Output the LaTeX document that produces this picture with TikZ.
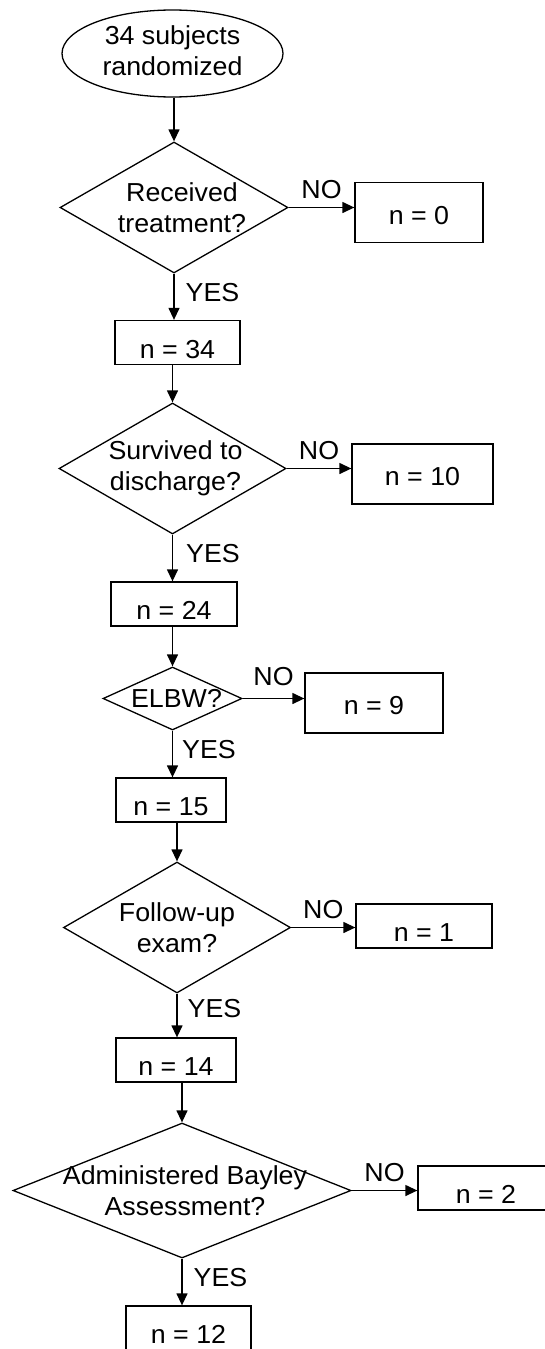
\documentclass[tikz,border=0pt]{standalone}
\usepackage{fontspec}
\setmainfont{Liberation Sans}[FakeStretch=1.03]
\usetikzlibrary{arrows.meta,shapes.geometric}

\begin{document}
\begin{tikzpicture}[x=1pt,y=-1pt,>={Triangle[length=12pt,width=11pt]},line width=1.3pt,
  font=\fontsize{26}{30.5}\selectfont,
  start/.style={draw,ellipse,align=center,inner sep=0pt,minimum width=221pt,minimum height=87pt},
  decision/.style={draw,diamond,inner sep=0pt},
  dtext/.style={align=center,inner sep=0pt},
  count/.style={draw,inner sep=0pt,minimum height=44pt,text height=31pt,text depth=0pt},
  tall/.style={count,minimum height=60pt,text height=23pt},
  lab/.style={inner sep=0pt}]
\useasboundingbox (0,0) rectangle (544,1349);
% main column
\node[start,text depth=6pt] (rand) at (172.5,53.5) {34 subjects\\randomized};
\node[decision,minimum width=228pt,minimum height=131pt,label={[dtext,xshift=8pt]center:Received\\treatment?}] (recv) at (174,207.5) {};
\node[count,minimum width=125pt] (n34) at (177.5,342.5) {n = 34};
\node[decision,minimum width=227pt,minimum height=131pt,label={[dtext,xshift=3pt]center:Survived to\\discharge?}] (surv) at (172.5,468.5) {};
\node[count,minimum width=126pt] (n24) at (174,604) {n = 24};
\node[decision,minimum width=139pt,minimum height=63pt,label={[dtext,xshift=4pt]center:ELBW?}] (elbw) at (172.5,698.5) {};
\node[count,minimum width=110pt] (n15) at (171,800) {n = 15};
\node[decision,minimum width=227pt,minimum height=131pt,label={[dtext]center:Follow-up\\exam?}] (fup) at (177,927.5) {};
\node[count,minimum width=120pt] (n14) at (176,1060) {n = 14};
\node[decision,minimum width=338pt,minimum height=135pt,label={[dtext,xshift=3pt]center:Administered Bayley\\Assessment?}] (bay) at (182,1190.5) {};
\node[count,minimum width=125pt] (n12) at (188.5,1328) {n = 12};
% excluded
\node[tall,minimum width=128pt,text height=24pt] (n0) at (419,212.5) {n = 0};
\node[tall,minimum width=141pt] (n10) at (422.5,474) {n = 10};
\node[tall,minimum width=138pt] (n9) at (374,703) {n = 9};
\node[count,minimum width=136pt] (n1) at (424,926) {n = 1};
\node[count,minimum width=136pt] (n2) at (486,1188) {n = 2};
% arrows
\draw[->] (recv.north |- rand.south) -- (recv.north);
\draw[->] (recv.east) -- node[lab,above=8pt] {NO} (recv.east -| n0.west);
\draw[->] (recv.south) -- node[lab,right=11pt,pos=0.4] {YES} (recv.south |- n34.north);
\draw[->] (surv.north |- n34.south) -- (surv.north);
\draw[->] (surv.east) -- node[lab,above=8pt] {NO} (surv.east -| n10.west);
\draw[->] (surv.south) -- node[lab,right=13pt,pos=0.4] {YES} (surv.south |- n24.north);
\draw[->] (elbw.north |- n24.south) -- (elbw.north);
\draw[->] (elbw.east) -- node[lab,above=12pt] {NO} (elbw.east -| n9.west);
\draw[->] (elbw.south) -- node[lab,right=9pt,pos=0.4] {YES} (elbw.south |- n15.north);
\draw[->] (fup.north |- n15.south) -- (fup.north);
\draw[->] (fup.east) -- node[lab,above=8pt] {NO} (fup.east -| n1.west);
\draw[->] (fup.south) -- node[lab,right=10pt,pos=0.35] {YES} (fup.south |- n14.north);
\draw[->] (bay.north |- n14.south) -- (bay.north);
\draw[->] (bay.east) -- node[lab,above=8pt] {NO} (bay.east -| n2.west);
\draw[->] (bay.south) -- node[lab,right=11pt,pos=0.4] {YES} (bay.south |- n12.north);
\end{tikzpicture}
\end{document}
